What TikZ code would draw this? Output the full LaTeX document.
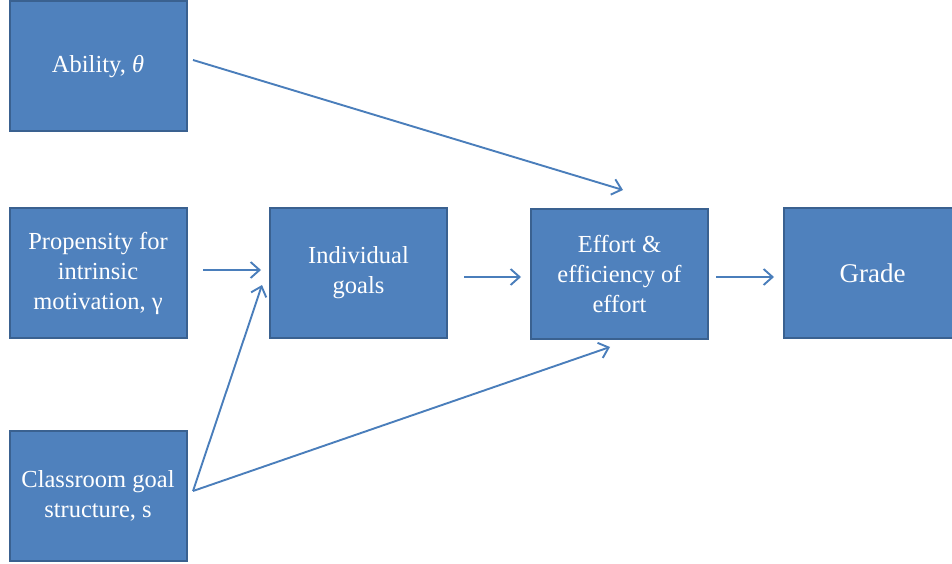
\documentclass[tikz,border=0pt]{standalone}
\usepackage{fontspec}
\setmainfont{Liberation Serif}
\usetikzlibrary{arrows.meta}
\definecolor{boxfill}{HTML}{4F81BD}
\definecolor{boxline}{HTML}{3A6190}
\definecolor{arrowc}{HTML}{4A7EBB}
\begin{document}
\begin{tikzpicture}[x=1pt,y=-1pt,
  box/.style={rectangle, fill=boxfill, draw=boxline, line width=2pt,
    minimum width=177pt, minimum height=130pt, inner sep=0pt,
    text=white, align=center, font=\fontsize{24.5}{30}\selectfont},
  conn/.style={draw=arrowc, line width=1.9pt,
    -{Straight Barb[length=9pt,width=16pt,line width=1.9pt]}}]
\useasboundingbox (0,0) rectangle (952,564);
\node[box] (ab) at (98,66.5) {Ability, {\itshape θ}};
\node[box] (pr) at (98,273) {Propensity for\\intrinsic\\motivation, γ};
\node[box] (cl) at (98,496) {Classroom goal\\structure, s};
\node[box] (ig) at (358.5,272.5) {Individual\\goals};
\node[box] (ef) at (619.5,273.5) {Effort \&\\efficiency of\\effort};
\node[box, font=\fontsize{27}{32}\selectfont] (gr) at (872.5,273) {Grade};
\coordinate (abS) at ([xshift=5.5pt,yshift=6.5pt]ab.east);
\coordinate (efT) at ([xshift=3.5pt,yshift=17.5pt]ef.north);
\coordinate (clS) at ([xshift=5.5pt,yshift=5pt]cl.east);
\coordinate (igL) at ([xshift=-7pt,yshift=-12.5pt]ig.west);
\coordinate (efB) at ([xshift=-9.5pt,yshift=-7.5pt]ef.south);
\draw[conn] (abS) -- (efT);
\draw[conn] ([xshift=15.5pt,yshift=3pt]pr.east) -- ([xshift=-8pt,yshift=2.5pt]ig.west);
\draw[conn] ([xshift=16pt,yshift=-4.5pt]ig.east) -- ([xshift=-9pt,yshift=-3.5pt]ef.west);
\draw[conn] ([xshift=7pt,yshift=-3.5pt]ef.east) -- ([xshift=-9pt,yshift=-4pt]gr.west);
\draw[conn] (clS) -- (igL);
\draw[conn] (clS) -- (efB);
\end{tikzpicture}
\end{document}
